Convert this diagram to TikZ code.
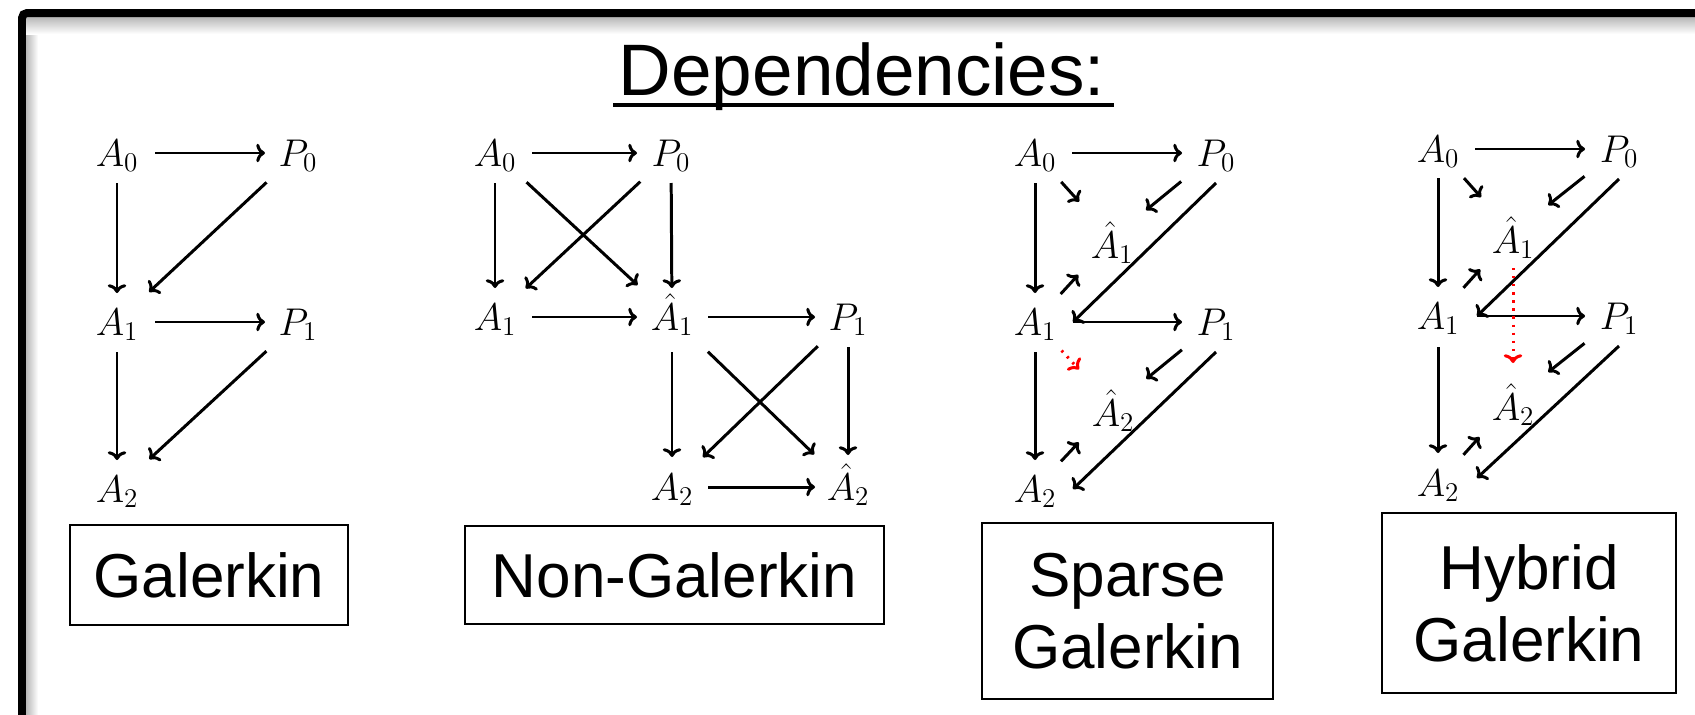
\RequirePackage{fix-cm}
\documentclass[tikz,border=0pt]{standalone}
\usepackage{fontspec}
\setsansfont{Liberation Sans}
\usetikzlibrary{arrows.meta}
\begin{document}
\begin{tikzpicture}[x=0.02cm,y=-0.02cm,
  mn/.style={inner sep=0pt,outer sep=0pt,font=\fontsize{22}{22}\selectfont,text height=17pt,text depth=2pt},
  hn/.style={inner sep=0pt,outer sep=0pt,font=\fontsize{22}{22}\selectfont,text height=25pt,text depth=2.2pt},
  ar/.style={line width=1.7pt,-{To[length=5pt,width=10.5pt]}},
  sh/.style 2 args={shorten <={#1*0.02cm},shorten >={#2*0.02cm}},
  rd/.style={ar,red,dash pattern=on 1.3pt off 3.3pt},
  lbl/.style={draw,line width=1.2pt,font=\sffamily\fontsize{35.3}{41}\selectfont,align=center,inner sep=0pt},
  slideframe/.style={line width=0.16cm,rounded corners=0.1cm}
]
\useasboundingbox (0,0) rectangle (1695,714);
% frame with inner shadow
\shade[left color=black!28,right color=white] (26,17) rectangle (38,714);
\shade[top color=black!28,bottom color=white] (26,17) rectangle (1695,34);
\draw[slideframe] (22,760) -- (22,13) -- (1760,13);

% title
\node[font=\sffamily\fontsize{41.5}{41.5}\selectfont,inner sep=0pt,anchor=base] (ttl) at (862,95) {Dependencies:};
\draw[line width=2.3pt] ([xshift=-0.1cm,yshift=-0.2cm]ttl.base west) -- ([xshift=0.16cm,yshift=-0.2cm]ttl.base east);

% ---------- Galerkin ----------
\node[mn] (gA0) at (117,153) {$A_0$};
\node[mn] (gP0) at (298,153) {$P_0$};
\node[mn] (gA1) at (117,322) {$A_1$};
\node[mn] (gP1) at (298,322) {$P_1$};
\node[mn] (gA2) at (117,489) {$A_2$};
\draw[ar,sh={38}{33}] (gA0.center) -- (gP0.center);
\draw[ar,sh={30}{29}] (gA0.center) -- (gA1.center);
\draw[ar,sh={43}{44}] (gP0.center) -- (gA1.center);
\draw[ar,sh={38}{33}] (gA1.center) -- (gP1.center);
\draw[ar,sh={30}{29}] (gA1.center) -- (gA2.center);
\draw[ar,sh={43}{44}] (gP1.center) -- (gA2.center);

% ---------- Non-Galerkin ----------
\node[mn] (nA0) at (495,153) {$A_0$};
\node[mn] (nP0) at (671,153) {$P_0$};
\node[mn] (nA1) at (495,317) {$A_1$};
\node[mn] (nH1) at (672,317) {$\hat{A}_1$};
\node[mn] (nP1) at (848,317) {$P_1$};
\node[mn] (nA2) at (672,487) {$A_2$};
\node[mn] (nH2) at (848,487) {$\hat{A}_2$};
\draw[ar,sh={37}{34}] (nA0.center) -- (nP0.center);
\draw[ar,sh={30}{29}] (nA0.center) -- (nA1.center);
\draw[ar,sh={43}{47}] (nA0.center) -- (nH1.center);
\draw[ar,sh={42}{42}] (nP0.center) -- (nA1.center);
\draw[ar,sh={30}{29}] (nP0.center) -- (nH1.center);
\draw[ar,sh={37}{35}] (nA1.center) -- (nH1.center);
\draw[ar,sh={36}{33}] (nH1.center) -- (nP1.center);
\draw[ar,sh={35}{30}] (nH1.center) -- (nA2.center);
\draw[ar,sh={50}{47}] (nH1.center) -- (nH2.center);
\draw[ar,sh={42}{43}] (nP1.center) -- (nA2.center);
\draw[ar,sh={30}{32}] (nP1.center) -- (nH2.center);
\draw[ar,sh={36}{33}] (nA2.center) -- (nH2.center);

% ---------- Sparse Galerkin ----------
\node[mn] (sA0) at (1035,153) {$A_0$};
\node[mn] (sP0) at (1216,153) {$P_0$};
\node[hn] (sH1) at (1112,238) {$\hat{A}_1$\hspace{5pt}};
\node[mn] (sA1) at (1035,322) {$A_1$};
\node[mn] (sP1) at (1216,322) {$P_1$};
\node[hn] (sH2) at (1113,406) {$\hat{A}_2$\hspace{5pt}};
\node[mn] (sA2) at (1035,489) {$A_2$};
\draw[ar,sh={37}{34}] (sA0.center) -- (sP0.center);
\draw[ar,sh={30}{29}] (sA0.center) -- (sA1.center);
\draw[ar,sh={39}{49}] (sA0.center) -- (sH1.center);
\draw[ar,sh={45}{44}] (sP0.center) -- (sH1.center);
\draw[ar] ([yshift=-0.6cm]sP0.center) -- ([xshift=0.76cm]sA1.center);
\draw[ar,sh={38}{50}] (sA1.center) -- (sH1.center);
\draw[ar,sh={38}{34}] (sA1.center) -- (sP1.center);
\draw[rd,sh={39}{50}] (sA1.center) -- (sH2.center);
\draw[ar,sh={30}{29}] (sA1.center) -- (sA2.center);
\draw[ar,sh={44}{43}] (sP1.center) -- (sH2.center);
\draw[ar] ([yshift=-0.6cm]sP1.center) -- ([xshift=0.76cm]sA2.center);
\draw[ar,sh={38}{50}] (sA2.center) -- (sH2.center);

% ---------- Hybrid Galerkin ----------
\node[mn] (hA0) at (1438,149) {$A_0$};
\node[mn] (hP0) at (1619,149) {$P_0$};
\node[hn] (hH1) at (1513,233) {$\hat{A}_1$\hspace{5pt}};
\node[mn] (hA1) at (1438,316) {$A_1$};
\node[mn] (hP1) at (1619,316) {$P_1$};
\node[hn] (hH2) at (1513,400) {$\hat{A}_2$\hspace{5pt}};
\node[mn] (hA2) at (1438,483) {$A_2$};
\draw[ar,sh={37}{34}] (hA0.center) -- (hP0.center);
\draw[ar,sh={29}{29}] (hA0.center) -- (hA1.center);
\draw[ar,sh={39}{48}] (hA0.center) -- (hH1.center);
\draw[ar,sh={44}{45}] (hP0.center) -- (hH1.center);
\draw[ar] ([yshift=-0.6cm]hP0.center) -- ([xshift=0.78cm]hA1.center);
\draw[ar,sh={38}{49}] (hA1.center) -- (hH1.center);
\draw[ar,sh={39}{34}] (hA1.center) -- (hP1.center);
\draw[rd,sh={35}{37}] (hH1.center) -- (hH2.center);
\draw[ar,sh={31}{30}] (hA1.center) -- (hA2.center);
\draw[ar,sh={44}{45}] (hP1.center) -- (hH2.center);
\draw[ar] ([yshift=-0.6cm]hP1.center) -- ([xshift=0.78cm,yshift=0.1cm]hA2.center);
\draw[ar,sh={38}{50}] (hA2.center) -- (hH2.center);

% ---------- labels ----------
\node[lbl,minimum width=5.56cm,minimum height=2cm] (bG) at (209,575) {Galerkin};
\node[lbl,minimum width=8.38cm,minimum height=1.96cm] (bN) at (674.5,575) {Non-Galerkin};
\node[lbl,minimum width=5.82cm,minimum height=3.52cm] (bS) at (1127.5,611) {Sparse\\Galerkin};
\node[lbl,minimum width=5.88cm,minimum height=3.6cm] (bH) at (1529,603) {Hybrid\\Galerkin};
\end{tikzpicture}
\end{document}
